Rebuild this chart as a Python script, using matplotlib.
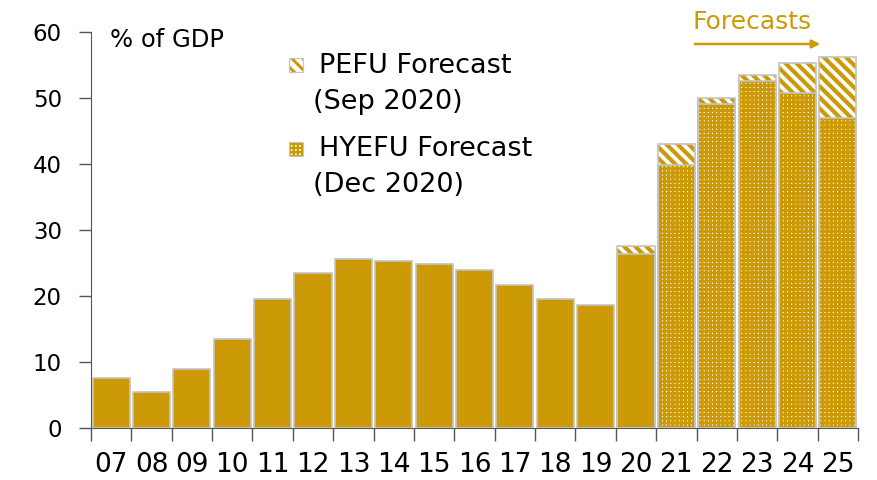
import matplotlib
matplotlib.use("Agg")
import matplotlib.pyplot as plt
import numpy as np
from matplotlib.patches import Rectangle, FancyArrowPatch

years = ["07", "08", "09", "10", "11", "12", "13", "14", "15", "16",
         "17", "18", "19", "20", "21", "22", "23", "24", "25"]
# HYEFU (Dec 2020) / outturn values
hyefu = [7.6, 5.4, 9.0, 13.5, 19.5, 23.5, 25.6, 25.3, 24.8, 24.0,
         21.6, 19.5, 18.7, 26.4, 39.8, 49.1, 52.6, 50.7, 47.0]
# PEFU (Sep 2020) forecast values
pefu = [np.nan] * 13 + [27.6, 43.0, 50.0, 53.5, 55.3, 56.2]
first_forecast = 14  # index of '21'

gold = "#CC9A06"
edge = "#C4C4C4"
plt.rcParams['font.family'] = ['DejaVu Sans']

fig = plt.figure(figsize=(8.77, 4.8), dpi=100)
ax = fig.add_axes([91/877, 1-428/480, (858-91)/877, (428-32)/480])

x = np.arange(len(years))
w = 0.92
hy = np.array(hyefu)
pe = np.array(pefu)
hist = x < first_forecast
fc = x >= first_forecast

# PEFU striped bars
pmask = ~np.isnan(pe)
with plt.rc_context({'hatch.linewidth': 3.0, 'hatch.color': gold}):
    ax.bar(x[pmask], pe[pmask], width=w, color='white', edgecolor=gold,
           linewidth=0, hatch='\\\\\\', zorder=2)
ax.bar(x[pmask], pe[pmask], width=w, facecolor='none', edgecolor=edge,
       linewidth=1.2, zorder=4)

# historical / outturn solid bars
ax.bar(x[hist], hy[hist], width=w, color=gold, edgecolor=edge,
       linewidth=1.2, zorder=3)

# HYEFU dotted bars
with plt.rc_context({'hatch.linewidth': 2.1, 'hatch.color': gold}):
    ax.bar(x[fc], hy[fc], width=w, color='white', edgecolor=gold,
           linewidth=0, hatch='++++', zorder=3)
ax.bar(x[fc], hy[fc], width=w, facecolor='none', edgecolor=edge,
       linewidth=1.2, zorder=4)

ax.set_xlim(-0.5, len(years) - 0.5)
ax.set_ylim(0, 60)
ax.set_yticks(range(0, 61, 10))
ax.set_yticklabels([str(v) for v in range(0, 61, 10)], fontsize=16.5)
ax.set_xticks(x)
ax.set_xticklabels(years, fontsize=19)
ax.tick_params(axis='x', length=0, pad=17)
ax.set_xticks(np.arange(-0.5, len(years)), minor=True)
ax.tick_params(axis='x', which='minor', length=9, width=1, color='#555555', direction='out')
ax.tick_params(axis='y', length=9, width=1, color='#555555', pad=12)
for s in ['top', 'right']:
    ax.spines[s].set_visible(False)
ax.spines['left'].set_color('#555555')
ax.spines['bottom'].set_color('#555555')

fig.text(110/877, 1-40/480, "% of GDP", fontsize=17.5, ha='left', va='center')

# legend
def leg_patch(y, hatch, lw, facecolor):
    with plt.rc_context({'hatch.linewidth': lw, 'hatch.color': gold}):
        r = Rectangle((289/877, y), 14/877, 14/480, transform=fig.transFigure,
                      facecolor=facecolor, edgecolor=gold, linewidth=0, hatch=hatch)
        fig.add_artist(r)
    fig.add_artist(Rectangle((289/877, y), 14/877, 14/480, transform=fig.transFigure,
                             facecolor='none', edgecolor=edge, linewidth=0.8))

lfs = 19.5
leg_patch(1-72/480, '\\\\\\', 2.2, 'white')
leg_patch(1-156/480, '++++', 1.7, 'white')
fig.text(319/877, 1-66/480, "PEFU Forecast", fontsize=lfs, va='center', ha='left')
fig.text(313/877, 1-102/480, "(Sep 2020)", fontsize=lfs, va='center', ha='left')
fig.text(319/877, 1-149/480, "HYEFU Forecast", fontsize=lfs, va='center', ha='left')
fig.text(313/877, 1-185/480, "(Dec 2020)", fontsize=lfs, va='center', ha='left')

# Forecasts arrow
fig.text(752/877, 1-22/480, "Forecasts", fontsize=18, color=gold, ha='center', va='center')
arr = FancyArrowPatch((692/877, 1-44/480), (823/877, 1-44/480), transform=fig.transFigure,
                      arrowstyle='-|>', mutation_scale=12, color=gold, linewidth=1.8)
fig.add_artist(arr)

fig.savefig("out.png", dpi=100)
